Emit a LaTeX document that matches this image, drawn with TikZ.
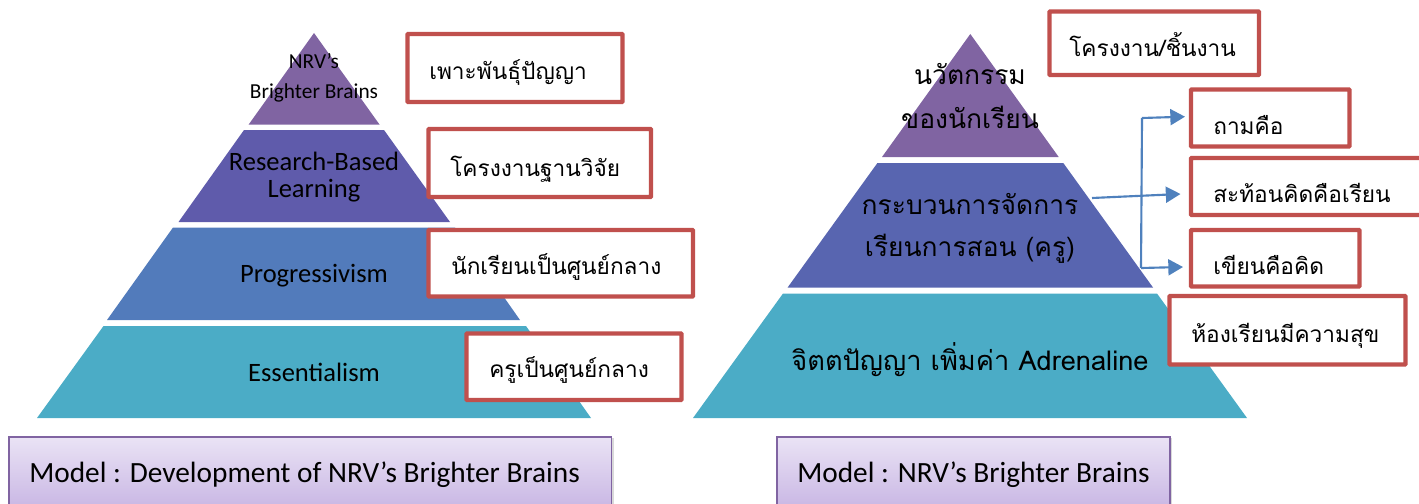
\documentclass[tikz,border=0pt]{standalone}
\usepackage{fontspec}
\usetikzlibrary{fit,shadows,arrows.meta}
\setmainfont{Carlito}
\newfontfamily\thaifont[Script=Thai]{Loma}
\definecolor{cPurple}{HTML}{8064A2}
\definecolor{cIndigoL}{HTML}{5F5BAB}
\definecolor{cIndigoR}{HTML}{5865B0}
\definecolor{cBlue}{HTML}{527BBB}
\definecolor{cTeal}{HTML}{4BACC6}
\definecolor{cRed}{HTML}{C0504D}
\definecolor{cArrow}{HTML}{4F81BD}
\tikzset{
  x=.75pt,y=-.75pt,
  redbox/.style={draw=cRed,line width=3.3pt,fill=white,inner sep=0pt,rounded corners=.6pt},
  footbox/.style={draw=cPurple,line width=1.1pt,inner sep=0pt,top color=cFootT,bottom color=cFootB,drop shadow={shadow xshift=1.5pt,shadow yshift=-1pt,opacity=.3}},
  entxt/.style={font=\fontsize{19.9}{22}\selectfont,text=black,inner sep=0pt},
  entxts/.style={font=\fontsize{16}{18}\selectfont,text=black,inner sep=0pt},
  foottxt/.style={font=\fontsize{22}{25}\selectfont,text=black,inner sep=0pt,anchor=west},
  thbig/.style={font=\thaifont\fontsize{19.8}{24}\selectfont,text=black,inner sep=0pt},
  thwide/.style={font=\thaifont\fontsize{20.4}{24}\selectfont,text=black,inner sep=0pt},
  thbox/.style={font=\thaifont\fontsize{17}{20}\selectfont,text=black,inner sep=0pt,anchor=west},
  conn/.style={draw=cArrow,line width=1.6pt},
  arr/.style={conn,-{Triangle[length=11pt,width=12pt]}},
}
\definecolor{cFootT}{HTML}{EAE3F5}
\definecolor{cFootB}{HTML}{C7B4E3}
\begin{document}
\begin{tikzpicture}
\useasboundingbox (0,0) rectangle (1419,503);
% left pyramid
\fill[cPurple] (314,33) -- (379.5,124.5) -- (248.7,124.5) -- cycle;
\fill[cIndigoL] (244,130) -- (384,130) -- (450,222) -- (178.5,222) -- cycle;
\fill[cBlue] (173,227.5) -- (455,227.5) -- (520,320) -- (107,320) -- cycle;
\fill[cTeal] (103.5,326) -- (526,326) -- (591,418) -- (37,418) -- cycle;
% right pyramid
\fill[cPurple] (970.3,34) -- (1058.7,157) -- (882,157) -- cycle;
\fill[cIndigoR] (877.4,163) -- (1063.3,163) -- (1153,287.5) -- (787.6,287.5) -- cycle;
\fill[cTeal] (783,293.5) -- (1157,293.5) -- (1247,418) -- (693,418) -- cycle;
% left labels
\node[entxts] (nrv) at (314,61) {NRV’s};
\node[entxts] (bb) at (314,93) {Brighter Brains};
\node[entxt] (rb) at (314,161) {Research-Based};
\node[entxt] (lr) at (314,191) {Learning};
\node[entxt] (pg) at (314,276) {Progressivism};
\node[entxt] (es) at (314,372) {Essentialism};
% right labels
\node[thbig] (nw) at (970,74) {นวัตกรรม};
\node[thbig] (kn) at (970,117) {ของนักเรียน};
\node[thbig] (kb) at (970,204) {กระบวนการจัดการ};
\node[thbig] (rs) at (970,249) {เรียนการสอน (ครู)};
\node[thwide] (ad) at (970,360) {จิตตปัญญา เพิ่มค่า Adrenaline};
% boxes, left
\node[redbox,fit={(407.5,34)(622.5,102)}] (b1) {};
\node[redbox,fit={(428.5,129)(651,197)}] (b2) {};
\node[redbox,fit={(428.5,230)(693,296.5)}] (b3) {};
\node[redbox,fit={(466.5,333.5)(681.5,400)}] (b4) {};
\node[thbox] (t1) at (429,73) {เพาะพันธุ์ปัญญา};
\node[thbox] (t2) at (450,169) {โครงงานฐานวิจัย};
\node[thbox] (t3) at (451,267) {นักเรียนเป็นศูนย์กลาง};
\node[thbox] (t4) at (489,370) {ครูเป็นศูนย์กลาง};
% boxes, right
\node[redbox,fit={(1049.5,11.5)(1259,75)}] (r1) {};
\node[redbox,fit={(1191,89.5)(1349.5,146.5)}] (r2) {};
\node[redbox,fit={(1191,158)(1425,215)}] (r3) {};
\node[redbox,fit={(1191,230)(1359.5,286.5)}] (r4) {};
\node[redbox,fit={(1169.5,296)(1405.5,364.5)}] (r5) {};
\node[thbox] (s1) at (1069,45) {โครงงาน/ชิ้นงาน};
\node[thbox] (s2) at (1213,125) {ถามคือ};
\node[thbox] (s3) at (1213,193) {สะท้อนคิดคือเรียน};
\node[thbox] (s4) at (1213,265) {เขียนคือคิด};
\node[thbox] (s5) at (1191,336) {ห้องเรียนมีความสุข};
% connectors
\coordinate (src) at (1092,198);
\coordinate (tipA) at (1185,116.7);
\coordinate (tipB) at (1180.5,194);
\coordinate (tipC) at (1183,267);
\coordinate (jTop) at (1142,118);
\coordinate (jBot) at (1141,268);
\draw[conn] (jTop) -- (jBot);
\draw[arr] (jTop) -- (tipA);
\draw[arr] (jBot) -- (tipC);
\draw[arr] (src) -- (tipB);
% footers
\node[footbox,fit={(9,437)(611.5,512)}] (f1) {};
\node[footbox,fit={(777,437)(1170,512)}] (f2) {};
\node[foottxt] (f1t) at (29,475) {Model : Development of NRV’s Brighter Brains};
\node[foottxt] (f2t) at (797,475) {Model : NRV’s Brighter Brains};
\end{tikzpicture}
\end{document}
